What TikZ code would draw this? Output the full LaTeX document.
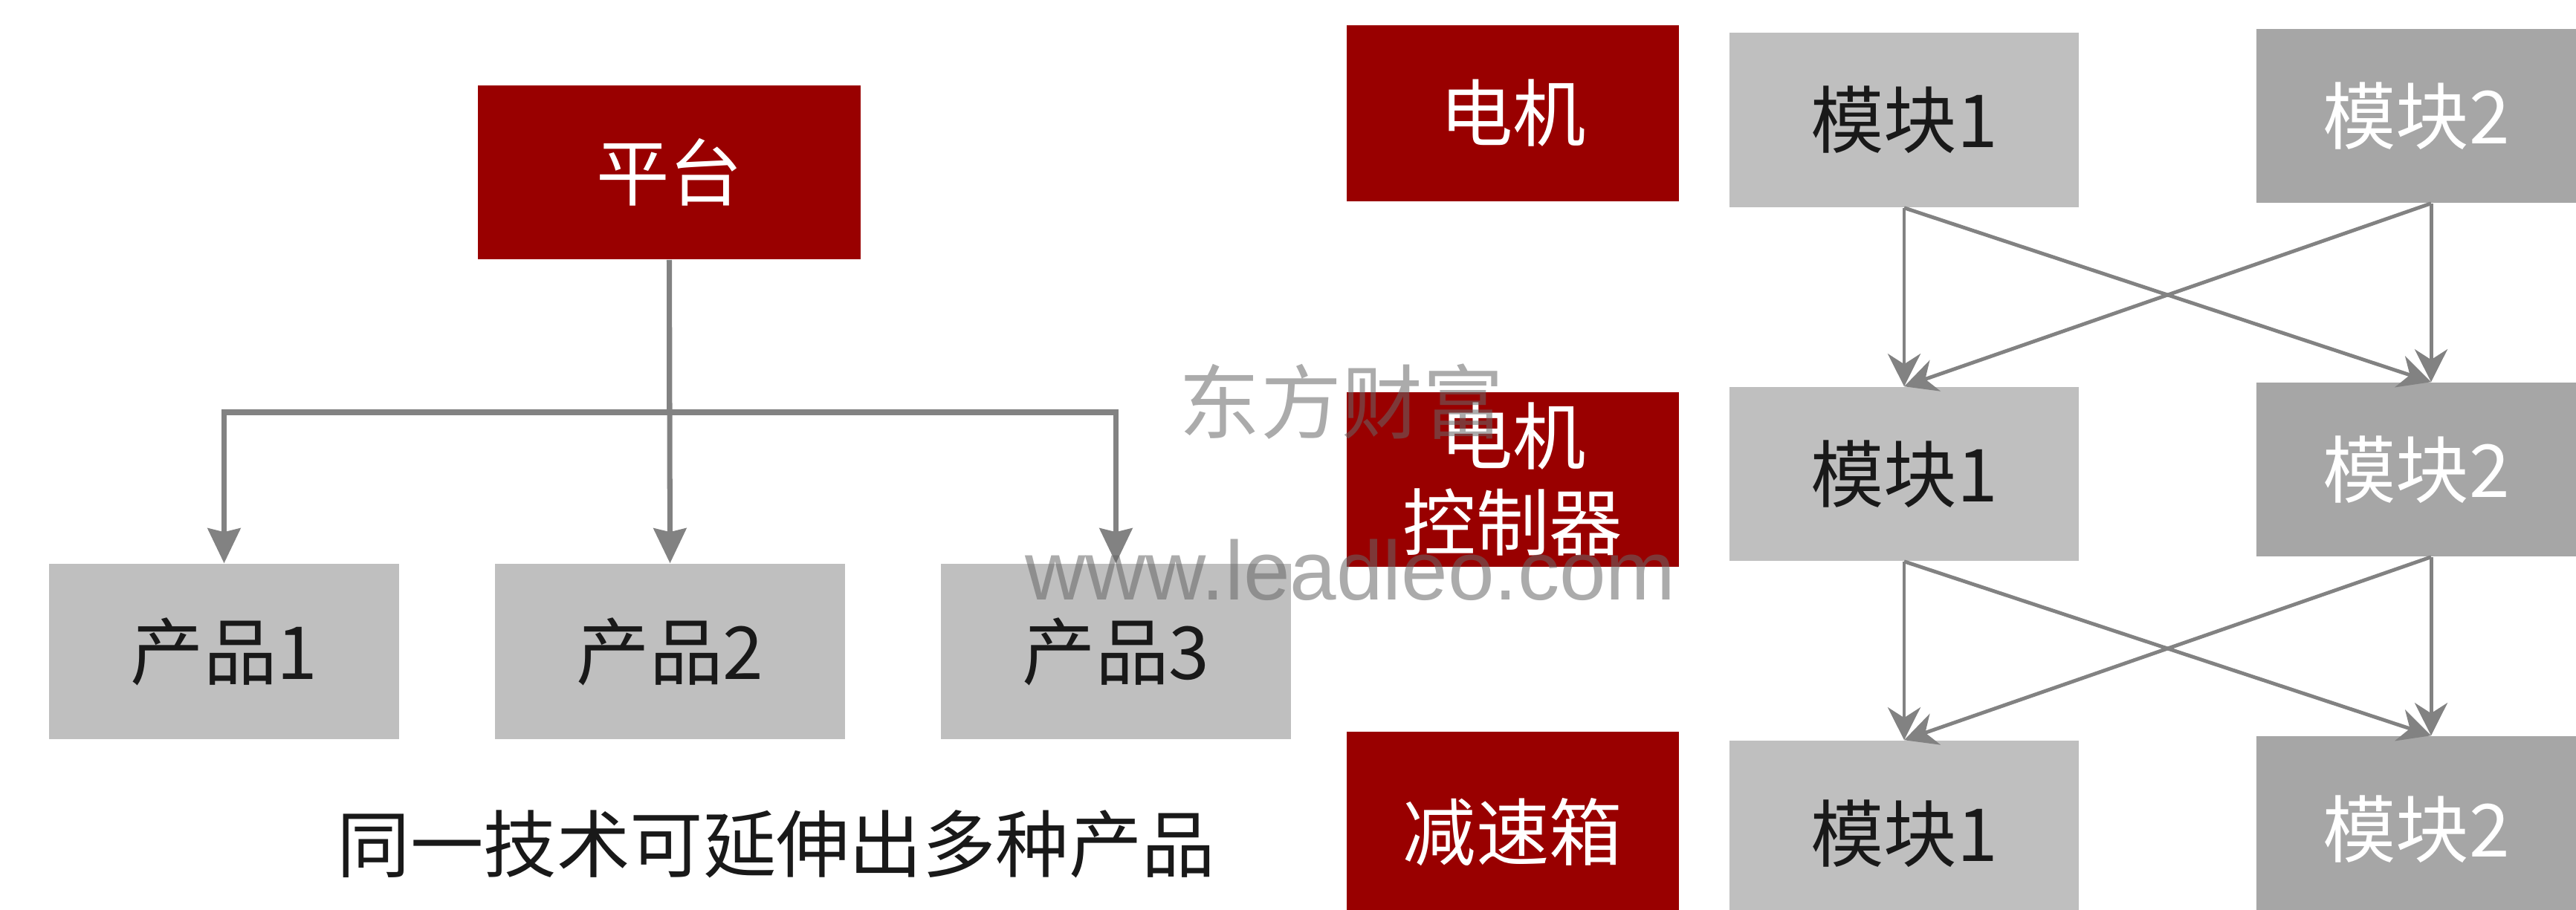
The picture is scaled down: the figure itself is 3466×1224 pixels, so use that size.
\documentclass[tikz,border=0pt]{standalone}
\usepackage{fontspec}
\setmainfont{Noto Sans CJK SC}
\newfontfamily\wmfont{Liberation Sans}
\usetikzlibrary{arrows.meta}
\definecolor{dred}{HTML}{990000}
\definecolor{lgray}{HTML}{BFBFBF}
\definecolor{dgray}{HTML}{A6A6A6}
\definecolor{agray}{HTML}{828282}
\definecolor{wmgray}{HTML}{666666}
\tikzset{
  box/.style={rectangle, inner sep=0pt, font=\fontsize{28}{33}\selectfont, align=center},
  redbox/.style={box, fill=dred, text=white},
  lbox/.style={box, fill=lgray, text=black!90},
  dbox/.style={box, fill=dgray, text=white},
  arr/.style={draw=agray, line width=2pt, -{Stealth[length=0.47cm, width=0.44cm, inset=0.05cm]}},
  arrx/.style={draw=agray, line width=1.4pt, -{Stealth[length=0.44cm, width=0.44cm, inset=0.14cm]}},
  wm/.style={inner sep=0pt, text=wmgray, text opacity=0.55},
}
\begin{document}
\begin{tikzpicture}[x=0.01cm, y=-0.01cm]
\useasboundingbox (0,0) rectangle (3466,1224);
\clip (0,0) rectangle (3466,1224);
% left tree
\node[redbox, minimum width=5.15cm, minimum height=2.34cm] (pt) at (900.5,232) {平台};
\node[lbox, minimum width=4.71cm, minimum height=2.36cm] (p1) at (301.5,877) {产品1};
\node[lbox, minimum width=4.71cm, minimum height=2.36cm] (p2) at (901.5,877) {产品2};
\node[lbox, minimum width=4.71cm, minimum height=2.36cm] (p3) at (1501.5,877) {产品3};
\node[box, text=black!90] (cap) at (1044.5,1136) {同一技术可延伸出多种产品};
\coordinate (hy) at (0,555);
\draw[arr] (pt.south) -- (p2.north);
\draw[arr] (pt.south) -- (pt.south |- hy) -| (p1.north);
\draw[arr] (pt.south) -- (pt.south |- hy) -| (p3.north);
% right grid
\node[redbox, minimum width=4.47cm, minimum height=2.37cm] (m1) at (2035.5,152.5) {电机};
\node[lbox, minimum width=4.70cm, minimum height=2.35cm] (a1) at (2562,161.5) {模块1};
\node[dbox, minimum width=4.70cm, minimum height=2.34cm] (b1) at (3271,156) {\hspace*{-0.4cm}模块2};
\node[redbox, minimum width=4.47cm, minimum height=2.35cm] (m2) at (2035.5,645.5) {电机\\控制器};
\node[lbox, minimum width=4.70cm, minimum height=2.34cm] (a2) at (2562,638) {模块1};
\node[dbox, minimum width=4.70cm, minimum height=2.34cm] (b2) at (3271,632) {\hspace*{-0.4cm}模块2};
\node[redbox, minimum width=4.47cm, minimum height=2.70cm] (m3) at (2035.5,1120) {减速箱};
\node[lbox, minimum width=4.70cm, minimum height=2.50cm] (a3) at (2562,1122) {模块1};
\node[dbox, minimum width=4.70cm, minimum height=2.50cm] (b3) at (3271,1116) {\hspace*{-0.4cm}模块2};
\draw[arrx] (a1.south) -- (a2.north);
\draw[arrx] (a1.south) -- (b2.north);
\draw[arrx] (b1.south) -- (a2.north);
\draw[arrx] (b1.south) -- (b2.north);
\draw[arrx] (a2.south) -- (a3.north);
\draw[arrx] (a2.south) -- (b3.north);
\draw[arrx] (b2.south) -- (a3.north);
\draw[arrx] (b2.south) -- (b3.north);
% watermarks
\node[wm, font=\fontsize{31}{31}\selectfont] (w1) at (1805,541) {东方财富};
\node[wm, font=\wmfont\fontsize{32}{32}\selectfont, anchor=base] (w2) at (1817,807) {www.leadleo.com};
\end{tikzpicture}
\end{document}
